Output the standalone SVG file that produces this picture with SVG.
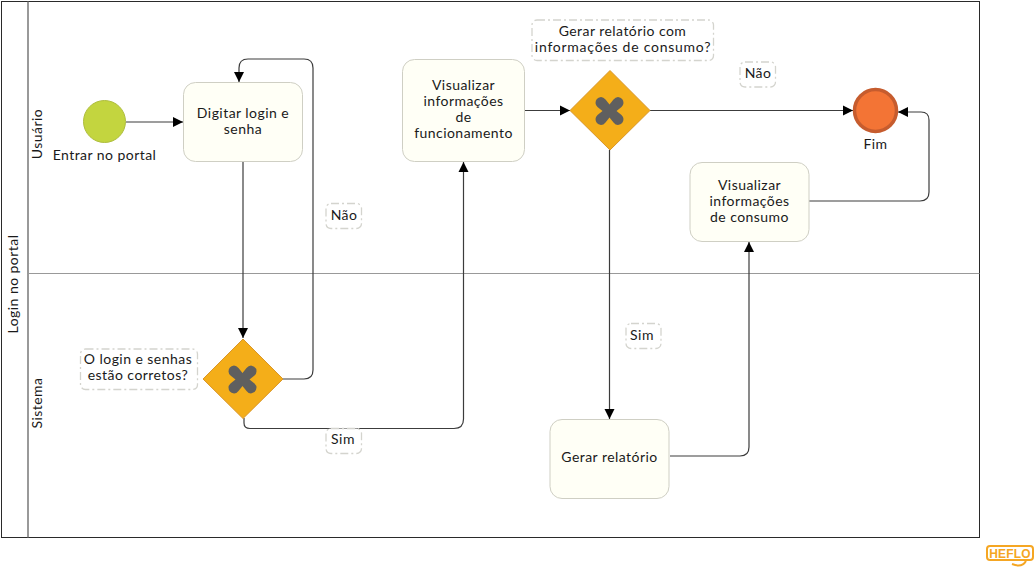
<svg xmlns="http://www.w3.org/2000/svg" width="1036" height="569" viewBox="0 0 1036 569">
<defs>
<marker id="arrow" markerUnits="userSpaceOnUse" markerWidth="11" markerHeight="11" refX="10" refY="5.500" orient="auto"><path d="M0,0.500 L10,5.500 L0,10.500 Z" fill="#000"/></marker>
<path id="cross" d="M-8.500,-14 Q-6,-14 -4,-11.500 L0,-6.500 L4,-11.500 Q6,-14 8.500,-14 Q14,-13 14,-8 Q14,-6 12,-4 L7,0 L12,4 Q14,6 14,8 Q14,13 8.500,14 Q6,14 4,11.500 L0,6.500 L-4,11.500 Q-6,14 -8.500,14 Q-14,13 -14,8 Q-14,6 -12,4 L-7,0 L-12,-4 Q-14,-6 -14,-8 Q-14,-13 -8.500,-14 Z" fill="#5f5f5f"/>
</defs>
<style>
text{font-family:"Lato","Open Sans","Liberation Sans",sans-serif;font-size:14px;letter-spacing:.45px;fill:#1a1a1a;text-anchor:middle}
.task{fill:#fffff6;stroke:#cfcfc4;stroke-width:1}
.gw{fill:#f4ae19;stroke:#d9962a;stroke-width:1}
.lab{fill:#fff;stroke:#d4d4ce;stroke-width:1.300;stroke-dasharray:8 3 2 3}
.edge{fill:none;stroke:#3c3c3c;stroke-width:1.200}
.arr{marker-end:url(#arrow)}
</style>
<g id="pool">
<rect x="1.500" y="1.500" width="978" height="536" fill="#fff" stroke="#2a2a2a" stroke-width="1"/>
<line x1="28" y1="1.500" x2="28" y2="537.500" stroke="#777" stroke-width="1.500"/>
<line x1="28" y1="273.500" x2="979.500" y2="273.500" stroke="#999" stroke-width="1"/>
<text transform="translate(18,284) rotate(-90)">Login no portal</text>
<text transform="translate(42,134) rotate(-90)">Usuário</text>
<text transform="translate(42,403) rotate(-90)">Sistema</text>
</g>
<g id="connectors">
<path class="edge arr" d="M126,122 H183"/>
<path class="edge arr" d="M243,162 V338"/>
<path class="edge arr" d="M283,379 H304 Q313,379 313,370 V68 Q313,59 304,59 H248 Q239,59 239,68 V82"/>
<path class="edge arr" d="M244,418 V423 Q244,428.500 250,428.500 H454 Q463.500,428.500 463.500,419 V162"/>
<path class="edge arr" d="M525,110.500 H570"/>
<path class="edge arr" d="M650,110.500 H853"/>
<path class="edge arr" d="M609.500,150 V419"/>
<path class="edge arr" d="M670,456 H740 Q749,456 749,447 V242"/>
<path class="edge arr" d="M809,201 H920 Q929,201 929,192 V120 Q929,112 921,112 H898"/>
</g>
<g id="start"><circle cx="104.500" cy="121.500" r="21" fill="#c3d53f" stroke="#aebd3e" stroke-width="1"/><text x="104.500" y="160">Entrar no portal</text></g>
<g id="task-login"><rect class="task" x="183.500" y="82.500" width="119" height="79" rx="12"/><text x="243" y="118">Digitar login e</text><text x="243" y="134">senha</text></g>
<g id="gw-login"><path class="gw" d="M243,339 L283,379 L243,418.500 L203,379 Z"/><use href="#cross" x="242.500" y="379.500"/></g>
<g id="label-login"><rect class="lab" x="80.500" y="349" width="117" height="40.500" rx="5"/><text x="138" y="364">O login e senhas</text><text x="138" y="380">estão corretos?</text></g>
<g id="label-nao1"><rect class="lab" x="326" y="203.500" width="35.500" height="25" rx="5"/><text x="344" y="220">Não</text></g>
<g id="label-sim1"><rect class="lab" x="326" y="428.500" width="35.500" height="25" rx="5"/><text x="343" y="444">Sim</text></g>
<g id="task-func"><rect class="task" x="402.500" y="59.500" width="122" height="102" rx="12"/><text x="463.500" y="90">Visualizar</text><text x="463.500" y="106">informações</text><text x="463.500" y="122">de</text><text x="463.500" y="138">funcionamento</text></g>
<g id="gw-rel"><path class="gw" d="M610,70.500 L650,110.500 L610,150 L570,110.500 Z"/><use href="#cross" x="609.500" y="111"/></g>
<g id="label-rel"><rect class="lab" x="532" y="20" width="181.500" height="40.500" rx="5"/><text x="622.500" y="36">Gerar relatório com</text><text x="623" y="52" style="letter-spacing:.75px">informações de consumo?</text></g>
<g id="label-nao2"><rect class="lab" x="740" y="62" width="35.500" height="25" rx="5"/><text x="758" y="78">Não</text></g>
<g id="label-sim2"><rect class="lab" x="626" y="323.500" width="35" height="25" rx="5"/><text x="642" y="340">Sim</text></g>
<g id="end"><circle cx="875.500" cy="110.500" r="21" fill="#f37435" stroke="#c65c2e" stroke-width="3.500"/><text x="875.500" y="149">Fim</text></g>
<g id="task-consumo"><rect class="task" x="690" y="162.500" width="119" height="79" rx="12"/><text x="749.500" y="190">Visualizar</text><text x="749.500" y="206">informações</text><text x="749.500" y="222">de consumo</text></g>
<g id="task-gerar"><rect class="task" x="550" y="419.500" width="119" height="79" rx="12"/><text x="609.500" y="462">Gerar relatório</text></g>
<g id="heflo"><rect x="987" y="546" width="46" height="14" rx="3" fill="#fff" stroke="#f5a623" stroke-width="2"/><text x="1010" y="557.500" style="font-size:12px;font-weight:700;letter-spacing:.2px;fill:#f5a623;font-family:'Liberation Sans',sans-serif">HEFLO</text><path d="M1012,564 Q1022,568 1026,561" fill="none" stroke="#f5a623" stroke-width="2"/></g>
</svg>
